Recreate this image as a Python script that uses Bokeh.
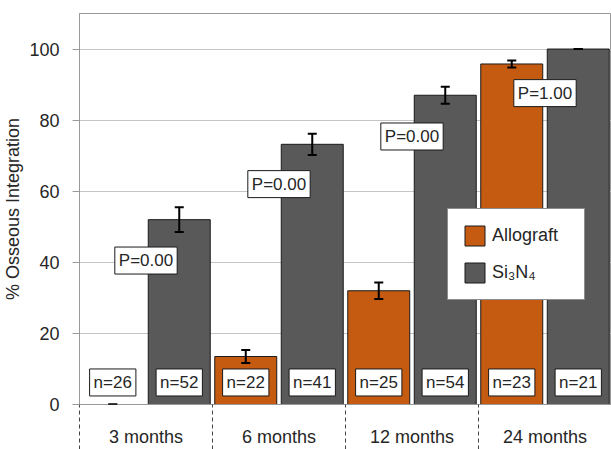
from bokeh.plotting import figure
from bokeh.models import (Range1d, FixedTicker, ColumnDataSource, Whisker, TeeHead,
                          Legend, LegendItem)
from bokeh.core.properties import value
from bokeh.embed import file_html
from bokeh.resources import INLINE

# ---- data ----
periods = ["3 months", "6 months", "12 months", "24 months"]
allograft = [0, 13.5, 32, 95.8]
allograft_err = [0, 1.8, 2.3, 1.0]
si3n4 = [52, 73.2, 87, 100]
si3n4_err = [3.5, 3.0, 2.4, 0]
n_allograft = [26, 22, 25, 23]
n_si3n4 = [52, 41, 54, 21]
p_values = ["0.00", "0.00", "0.00", "1.00"]
p_label_y = [40.5, 62, 75.4, 87.6]
n_label_y = 6.2
y_ticks = [0, 20, 40, 60, 80, 100]
series_names = ["Allograft", "Si₃N₄"]

FONT = "Liberation Sans"
FS = "18px"
TXT = "#262626"
ORANGE = "#C55A11"
GRAY = "#595959"

idx = list(range(len(periods)))
allo_x = [i + 0.25 for i in idx]
si_x = [i + 0.75 for i in idx]
centers = [i + 0.5 for i in idx]

p = figure(width=611, height=449, x_range=Range1d(0, len(periods)), y_range=Range1d(0, 110),
           output_backend="svg", toolbar_location=None,
           min_border_left=79, min_border_right=0, min_border_top=13, min_border_bottom=45)
p.outline_line_color = "#999999"
p.background_fill_color = "white"

# axes
xa = p.xaxis[0]
xa.ticker = FixedTicker(ticks=centers, minor_ticks=[float(i) for i in range(len(periods) + 1)])
xa.major_label_overrides = {c: lab for c, lab in zip(centers, periods)}
xa.major_tick_line_color = None
xa.major_tick_in = 0
xa.major_tick_out = 0
xa.minor_tick_in = 0
xa.minor_tick_out = 45
xa.minor_tick_line_dash = "4 3"
xa.minor_tick_line_color = "#444444"
xa.axis_line_color = "#999999"
xa.major_label_standoff = -23
xa.major_label_text_font = FONT
xa.major_label_text_font_size = FS
xa.major_label_text_color = TXT

ya = p.yaxis[0]
ya.ticker = FixedTicker(ticks=y_ticks)
ya.major_tick_in = 0
ya.major_tick_out = 7
ya.minor_tick_line_color = None
ya.axis_line_color = "#999999"
ya.major_tick_line_color = "#999999"
ya.major_label_standoff = 13
ya.major_label_text_font = FONT
ya.major_label_text_font_size = "18px"
ya.major_label_text_color = TXT
ya.axis_label = "% Osseous Integration"
ya.axis_label_text_font = FONT
ya.axis_label_text_font_size = FS
ya.axis_label_text_font_style = "normal"
ya.axis_label_text_color = TXT
ya.axis_label_standoff = 3

p.xgrid.visible = False
p.ygrid.ticker = FixedTicker(ticks=y_ticks)
p.ygrid.grid_line_color = "#c4c4c4"

# bars
r1 = p.vbar(x=allo_x, top=allograft, width=0.466, fill_color=ORANGE, line_color="#1a1a1a", line_width=1)
r2 = p.vbar(x=si_x, top=si3n4, width=0.466, fill_color=GRAY, line_color="#1a1a1a", line_width=1)

# error bars
err_src = ColumnDataSource(dict(
    x=allo_x + si_x,
    upper=[v + e for v, e in zip(allograft, allograft_err)] + [v + e for v, e in zip(si3n4, si3n4_err)],
    lower=[v - e for v, e in zip(allograft, allograft_err)] + [v - e for v, e in zip(si3n4, si3n4_err)],
))
w = Whisker(base="x", upper="upper", lower="lower", source=err_src, level="overlay",
            line_color="black", line_width=2,
            upper_head=TeeHead(size=9, line_width=2, line_color="black"),
            lower_head=TeeHead(size=9, line_width=2, line_color="black"))
p.add_layout(w)

# n labels
p.text(x=allo_x + si_x, y=[n_label_y] * (2 * len(periods)),
       text=[f"n={n}" for n in n_allograft] + [f"n={n}" for n in n_si3n4],
       text_align="center", text_baseline="middle",
       text_font=value(FONT), text_font_size="17px", text_color=TXT,
       background_fill_color="white", border_line_color="#1a1a1a", border_line_width=1,
       padding=4)

# P labels
p.text(x=centers, y=p_label_y, text=[f"P={v}" for v in p_values],
       text_align="center", text_baseline="middle",
       text_font=value(FONT), text_font_size="17px", text_color=TXT,
       background_fill_color="white", border_line_color="#1a1a1a", border_line_width=1,
       padding=4)

legend = Legend(items=[LegendItem(label=series_names[0], renderers=[r1]),
                       LegendItem(label=series_names[1], renderers=[r2])],
                location=(368, 104), border_line_color="#1a1a1a", border_line_width=1,
                background_fill_color="white", background_fill_alpha=1,
                label_text_font=FONT, label_text_font_size=FS, label_text_color=TXT,
                glyph_width=25, glyph_height=25, spacing=12, padding=14, margin=0,
                label_standoff=5, label_width=78)
p.add_layout(legend)

open("out.html", "w").write(file_html(p, INLINE))
